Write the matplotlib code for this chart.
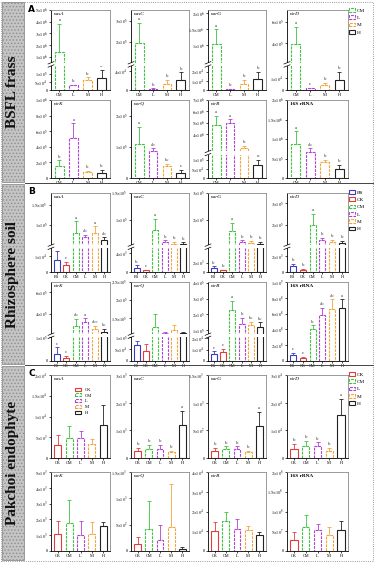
import numpy as np
import matplotlib
matplotlib.use("Agg")
import matplotlib.pyplot as plt
from matplotlib.patches import Patch, Rectangle
from matplotlib.lines import Line2D

plt.rcParams['font.family'] = ['Liberation Serif', 'DejaVu Serif']
plt.rcParams['mathtext.fontset'] = 'stix'
plt.rcParams['hatch.linewidth'] = 0.6

W, H = 375, 562

genes = ["nasA", "nasC", "narG", "nirD", "nirK", "norQ", "nirB", "16S rRNA"]

groups_A = ["CM", "L", "M", "H"]
groups_B = ["BS", "CK", "CM", "L", "M", "H"]
groups_C = ["CK", "CM", "L", "M", "H"]

# ---- A: BSFL frass
A_mean = [
    [1.45e6, 2.9e4, 6.2e4, 7.7e4],
    [1.95e5, 2.8e3, 1.25e4, 2.17e4],
    [1.025e6, 870, 6.5e3, 1.21e4],
    [3.9e5, 1.3e3, 4e3, 8.3e3],
    [1.57e5, 5.1e5, 7.2e4, 6.4e4],
    [1.075e5, 8.75e4, 3.75e4, 1.6e4],
    [4.82e6, 5.02e6, 2.77e6, 7.4e4],
    [8.6e5, 6.6e5, 4e5, 2.4e5],
]
A_err = [
    [2.36e6, 5e3, 1.8e4, 4.8e4],
    [9.5e4, 1e3, 9e3, 1.5e4],
    [4.75e5, 500, 4.3e3, 7.8e3],
    [1.64e5, 600, 2e3, 7e3],
    [6.8e4, 1.9e5, 1.8e4, 4.2e4],
    [5.75e4, 7.5e3, 7.5e3, 1.05e4],
    [8.2e5, 2.8e5, 2.1e5, 2.6e4],
    [3.4e5, 1e5, 6e4, 1e5],
]
A_letters = [
    ["a", "b", "b", "b"], ["a", "b", "b", "b"], ["a", "b", "b", "b"], ["a", "c", "b", "b"],
    ["b", "a", "b", "b"], ["a", "ab", "bc", "c"], ["a", "a", "b", "b"], ["a", "ab", "b", "b"],
]
A_break = [(1.5e5, 5e5), (5e4, 1e5), (2.6e4, 4.5e5), (2e4, 2.2e5), None, None, (1.3e5, 2.5e6), None]
A_top = [5e6, 3.5e5, 2.1e6, 7.1e5, 1e6, 2.5e5, 7e6, 2e6]
A_ticks = [
    [0, 5e4, 1e5, 1e6, 2e6, 3e6, 4e6, 5e6],
    [0, 4e4, 2e5, 3e5],
    [0, 1e4, 2e4, 1e6, 1.5e6, 2e6],
    [0, 1e4, 4e5, 6e5],
    [0, 2e5, 4e5, 6e5, 8e5, 1e6],
    [0, 1e5, 2e5],
    [0, 5e4, 1e5, 4e6, 5e6, 6e6, 7e6],
    [0, 5e5, 1e6, 1.5e6, 2e6],
]

# ---- B: rhizosphere soil
B_mean = [
    [7.5e3, 4.25e3, 8e4, 6.8e4, 8e4, 6.2e4],
    [917, 333, 8.1e4, 5.9e4, 5.6e4, 5.45e4],
    [917, 333, 1.59e5, 1.18e5, 1.15e5, 1.12e5],
    [700, 300, 1.965e5, 1.26e5, 1.19e5, 1.15e5],
    [3e4, 1.17e4, 2.81e5, 3.25e5, 2.51e5, 2.29e5],
    [6.7e4, 4.3e4, 1.26e5, 1.08e5, 1.17e5, 1.08e5],
    [6.2e3, 7.6e3, 2.25e5, 1.4e5, 1.3e5, 1.2e5],
    [8e7, 4e7, 4e8, 5.8e8, 6.6e8, 6.7e8],
]
B_err = [
    [6e3, 2.2e3, 2.8e4, 6e3, 1.6e4, 6e3],
    [500, 150, 2.05e4, 3e3, 3e3, 3.5e3],
    [250, 120, 2.9e4, 6e3, 6e3, 6e3],
    [300, 100, 5.5e4, 1.1e4, 1.1e4, 1e4],
    [2.7e4, 1e4, 6.7e4, 3e4, 3.7e4, 3e4],
    [1.6e4, 2.7e4, 3.7e4, 5e3, 1.3e4, 5e3],
    [2.1e3, 2.8e3, 6e4, 4e4, 2.5e4, 3e4],
    [2e7, 1.5e7, 5e7, 9e7, 1.2e8, 1.1e8],
]
B_letters = [
    ["b", "c", "a", "ab", "a", "ab"],
    ["b", "c", "a", "b", "b", "b"],
    ["b", "b", "a", "b", "b", "b"],
    ["b", "b", "a", "b", "b", "b"],
    ["c", "c", "ab", "a", "abc", "bc"],
    ["", "", "", "", "", ""],
    ["c", "c", "a", "b", "bc", "bc"],
    ["c", "c", "b", "ab", "ab", "a"],
]
B_break = [(1.5e4, 4.8e4), (5e3, 5.3e4), (5e3, 1.06e5), (3e3, 1.04e5),
           (1e5, 2.07e5), (1e5, 1.06e5), (2.07e4, 7.5e4), None]
B_top = [1.8e5, 1.5e5, 3e5, 3.48e5, 6.96e5, 2.5e5, 4.05e5, 1e9]
B_ticks = [
    [0, 1e4, 1e5, 1.5e5],
    [0, 4e3, 1e5, 1.5e5],
    [0, 2e3, 2e5, 3e5],
    [0, 2e3, 2e5, 3e5],
    [0, 1e5, 4e5, 6e5],
    [0, 5e4, 1e5, 1.5e5, 2e5, 2.5e5],
    [0, 1e4, 2e4, 1e5, 2e5, 3e5, 4e5],
    [0, 2e8, 4e8, 6e8, 8e8, 1e9],
]

# ---- C: pakchoi endophyte
C_mean = [
    [3.2e3, 4.8e3, 4.8e3, 3.4e3, 8e3],
    [264, 330, 330, 210, 1200],
    [132, 165, 165, 105, 570],
    [3.3e3, 4.2e3, 4.5e3, 2.7e3, 1.56e4],
    [1050, 1800, 1000, 1050, 1600],
    [126, 420, 203, 450, 38],
    [1e4, 1.52e4, 1.12e4, 1.08e4, 8e3],
    [2.7e7, 6e7, 5.2e7, 4e7, 5.2e7],
]
C_err = [
    [2.4e3, 3e3, 1.6e3, 1.2e3, 4.8e3],
    [96, 150, 150, 60, 510],
    [48, 45, 45, 30, 270],
    [1.8e3, 2.1e3, 1.2e3, 900, 5.7e3],
    [850, 1450, 900, 800, 250],
    [144, 525, 292, 825, 30],
    [4.8e3, 4.8e3, 5.2e3, 2e3, 1.6e3],
    [2.1e7, 3.2e7, 1.6e7, 2.2e7, 2.4e7],
]
C_letters = [
    [""] * 5, ["b", "b", "b", "b", "a"], ["b", "b", "b", "b", "a"], ["b", "b", "b", "b", "a"],
    [""] * 5, [""] * 5, [""] * 5, [""] * 5,
]
C_break = [None] * 8
C_top = [2e4, 3e3, 1.5e3, 3e4, 5e3, 1.5e3, 4e4, 2e8]
C_ticks = [
    [0, 5e3, 1e4, 1.5e4, 2e4],
    [0, 1e3, 2e3, 3e3],
    [0, 500, 1000, 1500],
    [0, 1e4, 2e4, 3e4],
    [0, 1e3, 2e3, 3e3, 4e3, 5e3],
    [0, 500, 1000, 1500],
    [0, 1e4, 2e4, 3e4, 4e4],
    [0, 5e7, 1e8, 1.5e8, 2e8],
]

colors = {"BS": "#3b3bc4", "CK": "#e23b3b", "CM": "#3cc43c",
          "L": "#b23fd6", "M": "#f2a53c", "H": "#222222"}
dashed = {"CM", "L", "M"}

FLO, FHI = 0.30, 0.34


def sci(v):
	if v == 0:
		return "0"
	e = int(np.floor(np.log10(v) + 1e-9))
	m = v / 10 ** e
	return r"$%s{\times}10^{%d}$" % (("%.1f" % m).rstrip("0").rstrip("."), e)


def broken_scale(b, u, top):
	def fwd(y):
		y = np.asarray(y, float)
		return np.where(y < b, y / b * FLO,
		                np.where(y < u, FLO + (y - b) / (u - b) * (FHI - FLO),
		                         FHI + (y - u) / (top - u) * (1 - FHI)))

	def inv(t):
		t = np.asarray(t, float)
		return np.where(t < FLO, t / FLO * b,
		                np.where(t < FHI, b + (t - FLO) / (FHI - FLO) * (u - b),
		                         u + (t - FHI) / (1 - FHI) * (top - u)))
	return fwd, inv


def px_rect(x0, y0, x1, y1):
	return [x0 / W, 1 - y1 / H, (x1 - x0) / W, (y1 - y0) / H]


def legend_handles(groups):
	return [Patch(facecolor='white', edgecolor=colors[g], linewidth=0.8,
	              linestyle=(0, (2.5, 1)) if g in dashed else '-') for g in groups]


def draw_panel(ax, title, groups, mean, err, letters, brk, top, ticks):
	x = np.arange(len(groups))
	if brk is not None:
		ax.set_yscale('function', functions=broken_scale(brk[0], brk[1], top))
	for i, g in enumerate(groups):
		ls = (0, (2.5, 1)) if g in dashed else '-'
		ax.bar(x[i], mean[i], width=0.62, facecolor='white', edgecolor=colors[g],
		       linewidth=0.8, linestyle=ls, zorder=3)
		ax.errorbar(x[i], mean[i], yerr=[[0], [err[i]]], fmt='none', ecolor=colors[g],
		            elinewidth=0.6, capsize=1.5, capthick=0.6, zorder=2)
		if letters[i]:
			ax.annotate(letters[i], (x[i], mean[i] + err[i]), xytext=(0, 1.2),
			            textcoords='offset points', ha='center', va='bottom',
			            fontsize=3.4, color='#333333')
	ax.set_ylim(0, top)
	ax.set_xlim(-0.6, len(groups) - 0.4)
	ax.set_yticks(ticks)
	ax.set_yticklabels([sci(t) for t in ticks])
	ax.yaxis.set_minor_locator(plt.NullLocator())
	ax.set_xticks(x)
	ax.set_xticklabels(groups)
	ax.tick_params(axis='both', labelsize=3.2, length=1.5, width=0.5, pad=1)
	for s in ['left', 'bottom']:
		ax.spines[s].set_linewidth(0.6)
	for s in ['top', 'right']:
		ax.spines[s].set_color('#8a8a8a')
		ax.spines[s].set_linewidth(0.6)
	italic = 'normal' if title.startswith('16S') else 'italic'
	ax.text(0.05, 0.975, title, transform=ax.transAxes, fontsize=3.8, style=italic,
	        weight='bold' if italic == 'normal' else 'normal', va='top', ha='left')
	if brk is not None:
		ax.add_patch(Rectangle((-0.03, FLO), 1.025, FHI - FLO, transform=ax.transAxes,
		                       facecolor='white', edgecolor='none', zorder=5, clip_on=False))
		for yy in (FLO, FHI):
			ax.plot([-0.05, 0.05], [yy - 0.015, yy + 0.015], transform=ax.transAxes,
			        color='k', lw=0.5, clip_on=False, zorder=6)


fig = plt.figure(figsize=(W / 100, H / 100), dpi=100)

xcols = [(51, 110), (131, 189), (208, 266), (287, 348)]
sections = [
	("A", "BSFL frass", groups_A, A_mean, A_err, A_letters, A_break, A_top, A_ticks,
	 [(10, 90), (100, 178)], (2, 182)),
	("B", "Rhizosphere soil", groups_B, B_mean, B_err, B_letters, B_break, B_top, B_ticks,
	 [(193, 272), (282, 361)], (184, 364)),
	("C", "Pakchoi endophyte", groups_C, C_mean, C_err, C_letters, C_break, C_top, C_ticks,
	 [(375, 458), (472, 551)], (366, 560)),
]

for tag, name, groups, means, errs, lets, brks, tops, ticks, rows, span in sections:
	for k in range(8):
		r, c = divmod(k, 4)
		ax = fig.add_axes(px_rect(xcols[c][0], rows[r][0], xcols[c][1], rows[r][1]))
		draw_panel(ax, genes[k], groups, means[k], errs[k], lets[k], brks[k], tops[k], ticks[k])
		if tag == "C" and k == 0:
			ax.legend(legend_handles(groups), groups, loc='upper center', bbox_to_anchor=(0.55, 0.9),
			          fontsize=3.4, frameon=False, handlelength=1.3, handleheight=0.6,
			          labelspacing=0.35)
	# side label panel
	y0, y1 = span
	fig.patches.append(Rectangle((2 / W, 1 - y1 / H), 22 / W, (y1 - y0) / H, transform=fig.transFigure,
	                             facecolor='#c4c4c4', edgecolor='#8f8f8f', hatch='.....', lw=0.6))
	fig.text(13 / W, 1 - (y0 + y1) / 2 / H, name, rotation=90, ha='center', va='center',
	         fontsize=11, weight='bold', color='#111111')
	fig.text(28 / W, 1 - (y0 + 7) / H, tag, fontsize=6.5, weight='bold', family='DejaVu Sans',
	         ha='left', va='center')
	fig.legend(legend_handles(groups), groups, loc='upper left', bbox_to_anchor=(348 / W, 1 - (y0 + 5) / H),
	           fontsize=3.8, frameon=False, handlelength=1.1, handleheight=0.7, labelspacing=0.5,
	           handletextpad=0.4, borderpad=0.2, borderaxespad=0)

for yy in (183, 365):
	fig.add_artist(Line2D([25 / W, 1 - 2 / W], [1 - yy / H] * 2, color='#444444', lw=0.7))
fig.add_artist(Rectangle((1 / W, 1 / H), 1 - 3 / W, 1 - 3 / H, transform=fig.transFigure,
                         fill=False, edgecolor='#777777', lw=0.6, linestyle=':'))

plt.savefig('out.png', dpi=100)
